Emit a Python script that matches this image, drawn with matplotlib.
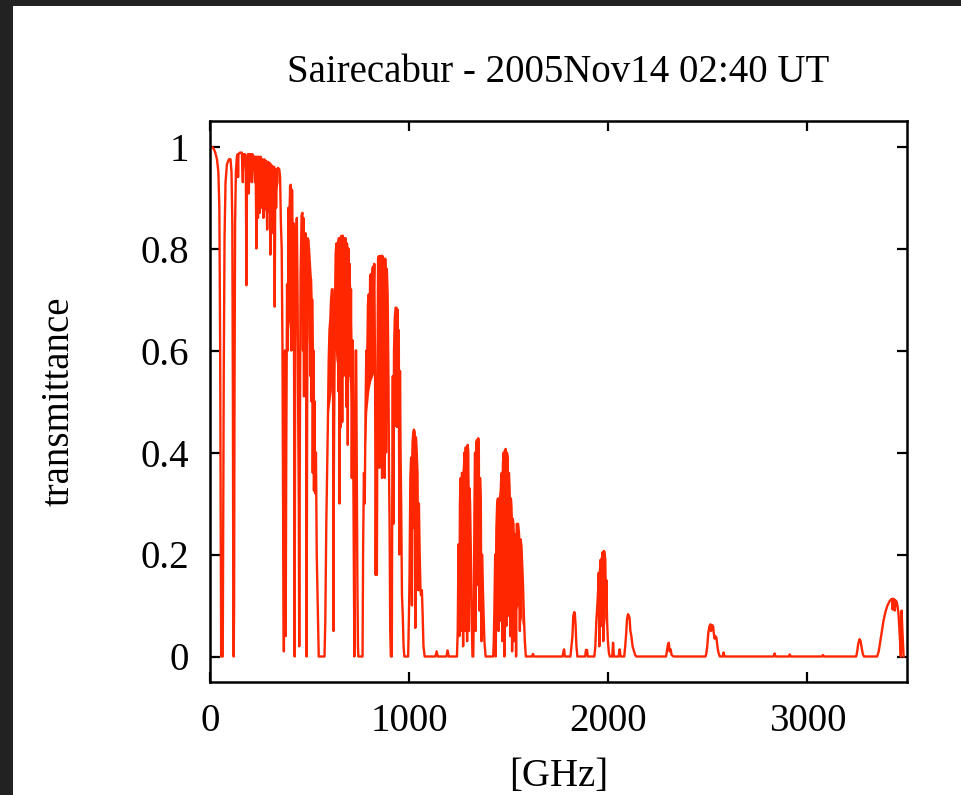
import numpy as np
import matplotlib
matplotlib.use("Agg")
import matplotlib.pyplot as plt
from matplotlib.patches import Rectangle

nan = np.nan

# ---- transmittance curve (frequency in GHz) ----
freq_a = [0, 15, 25, 35, 42, 47, 51, 54, 56, 64,
          66, 69, 73, 78, 85, 95, 103, 108, 112, 115,
          117, 119, 121, 123, 126, 130, 135, 139, 141, 143,
          150, 160, 165, 167, 175, 180, 183, 186, 190, 195,
          198, 206, 210, 213, 220, 226, 229, 233, 236, 241,
          244, 250, 254, 258, 262, 268, 272, 276, 280, 287,
          291, 296, 299, 303, 306, 310, 313, 318, 322, 325,
          328, 332, 336, 342, 348, 352, 356, 360, 364, 368,
          371, 374, 376, 378, 380]
trans_a = [1.0, 0.998, 0.99, 0.975, 0.95, 0.88, 0.6, 0.2, 0.0, 0.0,
           0.2, 0.55, 0.82, 0.93, 0.965, 0.975, 0.975, 0.95, 0.85, 0.5,
           0.1, 0.0, 0.1, 0.5, 0.85, 0.95, 0.98, 0.985, 0.94, 0.985,
           0.988, 0.988, 0.93, 0.985, 0.985, 0.95, 0.728, 0.96, 0.985, 0.908,
           0.985, 0.985, 0.93, 0.985, 0.98, 0.93, 0.98, 0.80, 0.98, 0.86,
           0.98, 0.87, 0.98, 0.88, 0.975, 0.86, 0.975, 0.9, 0.972, 0.837,
           0.97, 0.88, 0.968, 0.788, 0.965, 0.86, 0.962, 0.83, 0.96, 0.686,
           0.955, 0.88, 0.955, 0.958, 0.955, 0.94, 0.85, 0.80, 0.6, 0.2,
           0.01, 0.5, 0.6, 0.3, 0.04]

freq_b = [383, 387, 391, 394, 398, 402, 406, 409, 412, 416,
          419, 422, 425, 428, 432, 436, 440, 443, 446, 448,
          451, 455, 460, 464, 467, 469, 472, 474, 477, 480,
          483, 485, 488, 491, 495, 498, 501, 504, 507, 510,
          513, 516, 519, 522, 525, 528, 532, 536, 542, 546,
          575, 579, 584, 588, 592, 596, 600, 604, 608, 612,
          616, 618, 620, 622, 625, 628, 631, 635, 638, 641,
          644, 647, 650, 653, 657, 660, 664, 667, 671, 674,
          678, 681, 685, 688, 692, 695, 698, 701, 705, 708,
          712, 716, 719, 722, 725, 728, 731, 734, 737, 740,
          743, 745, 766]
trans_b = [0.4, 0.73, 0.6, 0.88, 0.73, 0.923, 0.925, 0.6, 0.915, 0.7,
           0.85, 0.6, 0.0, 0.6, 0.82, 0.86, 0.70, 0.47, 0.3, 0.02,
           0.4, 0.75, 0.865, 0.87, 0.60, 0.86, 0.51, 0.80, 0.65, 0.83,
           0.60, 0.0, 0.5, 0.82, 0.815, 0.70, 0.75, 0.55, 0.74, 0.50,
           0.7, 0.36, 0.6, 0.325, 0.5, 0.32, 0.4, 0.2, 0.08, 0.0,
           0.0, 0.07, 0.26, 0.36, 0.46, 0.58, 0.64, 0.66, 0.70, 0.72,
           0.72, 0.55, 0.05, 0.36, 0.55, 0.70, 0.79, 0.81, 0.60, 0.81,
           0.52, 0.82, 0.30, 0.82, 0.45, 0.825, 0.46, 0.825, 0.55, 0.82,
           0.71, 0.82, 0.49, 0.81, 0.415, 0.80, 0.61, 0.77, 0.55, 0.72,
           0.35, 0.62, 0.42, 0.2, 0.0, 0.35, 0.6, 0.6, 0.36, 0.15,
           0.02, 0.0, 0.0]

freq_c = [769, 773, 777, 781, 785, 789, 793, 797, 801, 804,
          808, 812, 815, 819, 822, 825, 829, 832, 835, 838,
          841, 844, 848, 851, 854, 858, 861, 864, 867, 871,
          874, 877, 880, 884, 888, 892, 896, 899, 902, 905,
          908, 913, 915, 918, 921, 924, 928, 932, 936, 939,
          942, 945, 948, 951, 954, 957, 960, 964, 968, 972,
          976, 995, 999, 1002, 1006, 1010, 1014, 1017, 1021, 1024,
          1028, 1031, 1034, 1038, 1042, 1046, 1049, 1053, 1057, 1060,
          1064, 1068, 1072, 1078, 1132, 1138, 1144, 1187, 1193, 1199]
trans_c = [0.22, 0.36, 0.3, 0.48, 0.6, 0.56, 0.69, 0.71, 0.60, 0.745,
           0.75, 0.65, 0.76, 0.765, 0.71, 0.77, 0.55, 0.16, 0.4, 0.16,
           0.55, 0.78, 0.785, 0.37, 0.785, 0.56, 0.786, 0.35, 0.785, 0.6,
           0.78, 0.35, 0.78, 0.40, 0.76, 0.71, 0.55, 0.36, 0.25, 0.05,
           0.0, 0.0, 0.3, 0.55, 0.26, 0.60, 0.665, 0.684, 0.684, 0.45,
           0.68, 0.58, 0.64, 0.2, 0.56, 0.40, 0.3, 0.12, 0.08, 0.02,
           0.0, 0.0, 0.08, 0.16, 0.35, 0.39, 0.10, 0.42, 0.44, 0.445,
           0.44, 0.056, 0.43, 0.40, 0.36, 0.13, 0.30, 0.20, 0.13, 0.12,
           0.13, 0.08, 0.02, 0.0, 0.0, 0.01, 0.0, 0.0, 0.012, 0.0]

freq_d = [1240, 1244, 1248, 1252, 1255, 1259, 1262, 1265, 1268, 1271,
          1274, 1278, 1281, 1284, 1288, 1291, 1294, 1297, 1300, 1303,
          1306, 1310, 1314, 1318, 1322, 1325, 1328, 1331, 1334, 1337,
          1341, 1344, 1347, 1350, 1353, 1356, 1360, 1363, 1366, 1370,
          1374, 1378, 1384, 1422, 1425, 1428, 1432, 1435, 1438, 1442,
          1446, 1449, 1452, 1455, 1458, 1461, 1465, 1468, 1471, 1475,
          1478, 1481, 1485, 1488, 1491, 1495, 1498, 1501, 1505, 1508,
          1511, 1514, 1517, 1520, 1524, 1527, 1530, 1534, 1537, 1540,
          1547, 1552, 1556, 1559, 1564, 1568, 1572, 1576, 1581, 1586]
trans_d = [0.0, 0.05, 0.22, 0.04, 0.30, 0.35, 0.05, 0.36, 0.355, 0.02,
           0.36, 0.40, 0.05, 0.41, 0.38, 0.03, 0.415, 0.40, 0.05, 0.33,
           0.30, 0.20, 0.08, 0.0, 0.0, 0.10, 0.30, 0.40, 0.05, 0.42,
           0.425, 0.14, 0.428, 0.40, 0.09, 0.35, 0.30, 0.03, 0.20, 0.14,
           0.08, 0.03, 0.0, 0.0, 0.03, 0.09, 0.20, 0.0, 0.25, 0.30,
           0.31, 0.05, 0.30, 0.31, 0.07, 0.34, 0.36, 0.03, 0.38, 0.40,
           0.0, 0.405, 0.407, 0.06, 0.40, 0.39, 0.08, 0.36, 0.32, 0.04,
           0.31, 0.29, 0.01, 0.27, 0.26, 0.03, 0.24, 0.22, 0.0, 0.26,
           0.26, 0.24, 0.05, 0.23, 0.217, 0.18, 0.138, 0.08, 0.03, 0.0]

freq_e = [1617, 1622, 1627, 1770, 1775, 1778, 1782, 1810, 1815, 1820,
          1824, 1829, 1832, 1836, 1840, 1845, 1884, 1888, 1893, 1897,
          1930, 1935, 1940, 1945, 1949, 1952, 1955, 1958, 1962, 1965,
          1968, 1972, 1975, 1978, 1981, 1985, 1988, 1990, 1994, 1998,
          2003, 2008, 2020, 2024, 2028, 2052, 2057, 2062, 2080, 2085,
          2090, 2094, 2099, 2103, 2107, 2111, 2116, 2122, 2128, 2135,
          2141, 2290, 2295, 2300, 2304, 2308, 2313, 2318, 2328, 2488,
          2492, 2497, 2502, 2507, 2512, 2516, 2520, 2526, 2530, 2534,
          2538, 2543, 2548, 2553, 2560, 2575, 2579, 2584, 2830, 2835,
          2840, 2906, 2911, 2916, 3073, 3078, 3083, 3245, 3250, 3255,
          3262, 3267, 3272, 3278, 3284, 3350, 3358, 3366, 3374, 3382,
          3392, 3402, 3412, 3420, 3426, 3428, 3431, 3436, 3439, 3442,
          3447, 3452, 3457, 3461, 3465, 3469, 3473, 3477, 3483]
trans_e = [0.0, 0.005, 0.0, 0.0, 0.01, 0.014, 0.0, 0.0, 0.02, 0.04,
           0.079, 0.087, 0.085, 0.06, 0.02, 0.0, 0.0, 0.013, 0.013, 0.0,
           0.0, 0.02, 0.07, 0.10, 0.13, 0.164, 0.02, 0.17, 0.19, 0.06,
           0.19, 0.205, 0.03, 0.207, 0.205, 0.19, 0.1, 0.15, 0.07, 0.03,
           0.007, 0.0, 0.0, 0.027, 0.0, 0.0, 0.014, 0.0, 0.0, 0.02,
           0.046, 0.073, 0.083, 0.080, 0.075, 0.05, 0.04, 0.02, 0.012, 0.003,
           0.0, 0.0, 0.012, 0.024, 0.027, 0.01, 0.014, 0.003, 0.0, 0.0,
           0.005, 0.02, 0.045, 0.058, 0.063, 0.05, 0.062, 0.06, 0.045, 0.035,
           0.04, 0.037, 0.02, 0.008, 0.0, 0.0, 0.008, 0.0, 0.0, 0.006,
           0.0, 0.0, 0.004, 0.0, 0.0, 0.003, 0.0, 0.0, 0.01, 0.025,
           0.034, 0.03, 0.018, 0.005, 0.0, 0.0, 0.01, 0.03, 0.05, 0.07,
           0.088, 0.1, 0.108, 0.112, 0.113, 0.092, 0.113, 0.112, 0.09, 0.11,
           0.108, 0.1, 0.085, 0.06, 0.03, 0.0, 0.09, 0.05, 0.0]

# ---- densely packed line regions (solid-looking parts of the windows) ----
band_freq = [228, 240, 255, 270, 285, 300, 315, 330, 345, nan,
             390, 396, 402, 408, 414, 420, nan,
             432, 437, 442, nan,
             456, 462, 470, 478, 483, nan,
             490, 495, 503, 512, 520, 528, nan,
             592, 598, 605, 612, 617, nan,
             628, 635, 645, 660, 675, 690, 700, 710, 718, nan,
             782, 790, 800, 810, 820, 828, nan,
             845, 855, 870, 885, 895, nan,
             920, 928, 936, 944, 950, nan,
             1005, 1012, 1020, 1030, 1040, 1046, nan,
             1252, 1258, 1268, 1278, 1288, 1296, 1303, 1310, nan,
             1328, 1335, 1345, 1355, 1362, nan,
             1432, 1440, 1450, 1462, 1475, 1485, 1495, 1505, 1515, 1525,
             1535, 1548, 1560, 1570, nan,
             1950, 1960, 1970, 1980, 1988]
band_top = [0.98, 0.98, 0.978, 0.975, 0.97, 0.965, 0.96, 0.955, 0.955, nan,
            0.80, 0.90, 0.922, 0.92, 0.90, 0.82, nan,
            0.82, 0.86, 0.78, nan,
            0.78, 0.865, 0.86, 0.83, 0.80, nan,
            0.78, 0.815, 0.80, 0.74, 0.65, 0.5, nan,
            0.46, 0.62, 0.68, 0.72, 0.72, nan,
            0.70, 0.81, 0.822, 0.825, 0.822, 0.81, 0.78, 0.72, 0.55, nan,
            0.5, 0.66, 0.72, 0.755, 0.768, 0.77, nan,
            0.78, 0.786, 0.785, 0.77, 0.60, nan,
            0.55, 0.665, 0.684, 0.67, 0.6, nan,
            0.33, 0.40, 0.44, 0.44, 0.38, 0.28, nan,
            0.2, 0.34, 0.36, 0.40, 0.41, 0.415, 0.33, 0.2, nan,
            0.3, 0.42, 0.428, 0.36, 0.3, nan,
            0.2, 0.28, 0.31, 0.35, 0.40, 0.407, 0.39, 0.32, 0.29, 0.26,
            0.22, 0.25, 0.20, 0.15, nan,
            0.15, 0.19, 0.205, 0.205, 0.15]
band_bottom = [0.96, 0.90, 0.88, 0.88, 0.87, 0.87, 0.88, 0.90, 0.93, nan,
               0.70, 0.66, 0.64, 0.64, 0.66, 0.70, nan,
               0.72, 0.70, 0.70, nan,
               0.75, 0.66, 0.64, 0.62, 0.62, nan,
               0.75, 0.62, 0.58, 0.52, 0.48, 0.40, nan,
               0.42, 0.48, 0.50, 0.52, 0.60, nan,
               0.62, 0.58, 0.56, 0.55, 0.56, 0.55, 0.55, 0.50, 0.45, nan,
               0.40, 0.48, 0.52, 0.54, 0.55, 0.56, nan,
               0.55, 0.50, 0.48, 0.48, 0.45, nan,
               0.45, 0.45, 0.45, 0.45, 0.42, nan,
               0.25, 0.25, 0.25, 0.25, 0.22, 0.20, nan,
               0.12, 0.12, 0.12, 0.12, 0.15, 0.16, 0.16, 0.14, nan,
               0.15, 0.15, 0.18, 0.15, 0.10, nan,
               0.10, 0.12, 0.12, 0.12, 0.12, 0.13, 0.13, 0.12, 0.12, 0.10,
               0.08, 0.10, 0.08, 0.06, nan,
               0.08, 0.09, 0.10, 0.09, 0.06]

x_ticks = [0, 1000, 2000, 3000]
x_ticklabels = ["0", "1000", "2000", "3000"]
y_ticks = [0, 0.2, 0.4, 0.6, 0.8, 1.0]
y_ticklabels = ["0", "0.2", "0.4", "0.6", "0.8", "1"]
title_text = "Sairecabur - 2005Nov14 02:40 UT"
x_label = "[GHz]"
y_label = "transmittance"

RED = "#ff2600"

plt.rcParams["font.family"] = ["Liberation Serif", "DejaVu Serif"]

W, H = 961, 795
fig = plt.figure(figsize=(W / 100, H / 100), dpi=100)
fig.patch.set_facecolor("white")
# dark screenshot frame (top and left)
fig.patches.append(Rectangle((0, 1 - 6 / H), 1, 6 / H, transform=fig.transFigure,
                             facecolor="#222222", edgecolor="none", zorder=0))
fig.patches.append(Rectangle((0, 0), 13 / W, 1, transform=fig.transFigure,
                             facecolor="#222222", edgecolor="none", zorder=0))

ax = fig.add_axes([210 / W, 1 - 682 / H, (907 - 210) / W, (682 - 121) / H])

freq = np.concatenate([freq_a, freq_b, freq_c, freq_d, freq_e])
trans = np.concatenate([trans_a, trans_b, trans_c, trans_d, trans_e])

ax.fill_between(band_freq, band_bottom, band_top, color=RED, linewidth=0)
ax.plot(freq, trans, color=RED, linewidth=1.7, solid_joinstyle="round")

ax.set_xlim(0, 3500)
ax.set_ylim(-0.05, 1.05)
ax.set_xticks(x_ticks)
ax.set_xticklabels(x_ticklabels)
ax.set_yticks(y_ticks)
ax.set_yticklabels(y_ticklabels)
ax.tick_params(direction="in", length=7, width=1.6, top=True, right=True,
               labelsize=28, pad=15, colors="black")
for s in ax.spines.values():
    s.set_linewidth(1.8)

ax.set_title(title_text, fontsize=28, pad=28)
ax.set_xlabel(x_label, fontsize=28)
ax.xaxis.set_label_coords(0.5, -0.136)
ax.set_ylabel(y_label, fontsize=28)
ax.yaxis.set_label_coords(-0.19, 0.5)

fig.savefig("out.png", dpi=100)
